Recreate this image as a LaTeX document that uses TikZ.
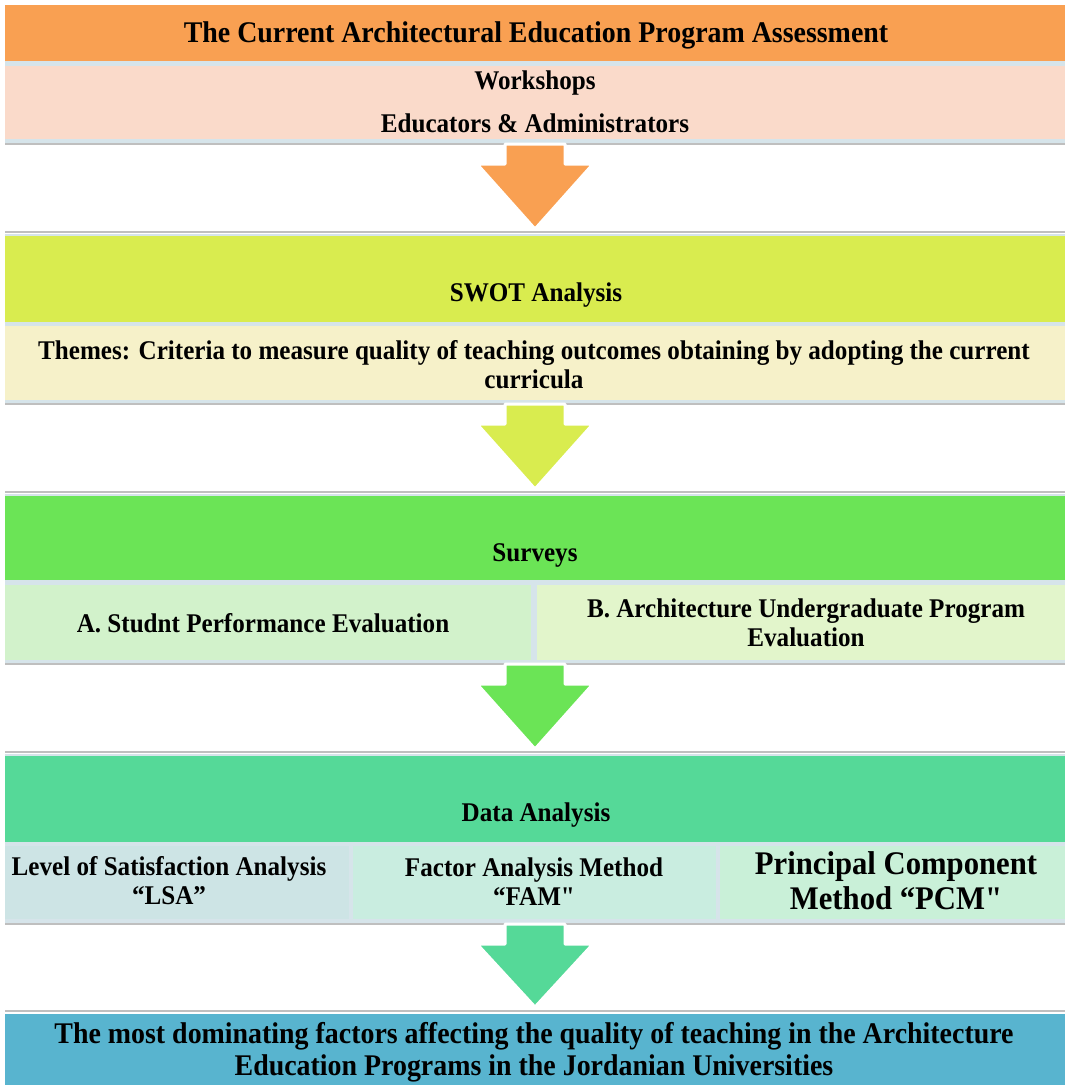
\documentclass[tikz,border=0pt]{standalone}
\usepackage{fontspec}
\setmainfont[FakeStretch=0.93]{Liberation Serif}
\newfontfamily\qfont[FakeStretch=0.93]{Liberation Serif}
\usetikzlibrary{calc}
\definecolor{cOrange}{HTML}{F9A052}
\definecolor{cPeach}{HTML}{FADACA}
\definecolor{cGap}{HTML}{D6E4EA}
\definecolor{cLime}{HTML}{D9EC4F}
\definecolor{cCream}{HTML}{F6F1C9}
\definecolor{cGreen}{HTML}{6BE456}
\definecolor{cGreenA}{HTML}{D2F2CB}
\definecolor{cGreenB}{HTML}{E2F5CB}
\definecolor{cTeal}{HTML}{55D998}
\definecolor{cLSA}{HTML}{CDE4E5}
\definecolor{cFAM}{HTML}{C9EDE0}
\definecolor{cPCM}{HTML}{C9F0D8}
\definecolor{cBlue}{HTML}{58B4CF}
\definecolor{cLine}{HTML}{BFBFBF}
\newcommand\sq{{\qfont\bfseries"}}
\tikzset{
  box/.style={rectangle, inner sep=0pt, outer sep=0pt, draw=none},
  txt/.style={inner sep=0pt, align=center, font=\fontsize{27}{29}\selectfont\bfseries},
  bigtxt/.style={txt, font=\fontsize{30}{32}\selectfont\bfseries},
  sepline/.style={draw=cLine, line width=1.3pt},
  barrowst/.style={draw=white, line width=3pt, line join=round},
}
\newcommand\barrow[3]{%
  \filldraw[barrowst, fill=#3]
    ($(#1)+(-30,0)$) -- ($(#1)+(30,0)$) -- ($(#1)+(30,20)$) -- ($(#1)+(58,20)$)
    -- ($(#2.north)+(0,-7)$)
    -- ($(#1)+(-58,20)$) -- ($(#1)+(-30,20)$) -- cycle;}
\begin{document}
\begin{tikzpicture}[x=1pt,y=-1pt]
\path[use as bounding box, fill=white] (0,0) rectangle (1065,1085);
% section 1
\fill[cGap] (5,5) rectangle (1065,144);
\node[box, fill=cOrange, minimum width=1060pt, minimum height=56pt] (top) at (535,33) {};
\node[bigtxt] (topt) at (536,35) {The Current Architectural Education Program Assessment};
\node[box, fill=cPeach, minimum width=1060pt, minimum height=73pt] (wk) at (535,102.5) {};
\node[txt] (wkt1) at (535,83.5) {Workshops};
\node[txt] (wkt2) at (535,123) {Educators \& Administrators};
\coordinate (s1l) at (5,144); \coordinate (s1r) at (1065,144); \coordinate (s1) at (535,144);
\draw[sepline] (s1l) -- (s1r);
\coordinate (t2l) at (5,232); \coordinate (t2r) at (1065,232);
\draw[sepline] (t2l) -- (t2r);
% section 2
\fill[cGap] (5,234) rectangle (1065,404);
\node[box, fill=cLime, minimum width=1060pt, minimum height=86pt] (swot) at (535,279) {};
\node[txt] (swott) at (536,295) {SWOT Analysis};
\node[box, fill=cCream, minimum width=1060pt, minimum height=74pt] (themes) at (535,363) {};
\node[txt] (themest) at (534,364.5) {Themes: Criteria to measure quality of teaching outcomes obtaining by adopting the current\\curricula};
\coordinate (s2l) at (5,404); \coordinate (s2r) at (1065,404); \coordinate (s2) at (535,404);
\draw[sepline] (s2l) -- (s2r);
\coordinate (t3l) at (5,492); \coordinate (t3r) at (1065,492);
\draw[sepline] (t3l) -- (t3r);
% section 3
\fill[cGap] (5,494) rectangle (1065,664);
\node[box, fill=cGreen, minimum width=1060pt, minimum height=84pt] (surv) at (535,538) {};
\node[txt] (survt) at (535,555) {Surveys};
\node[box, fill=cGreenA, minimum width=526pt, minimum height=75pt] (sa) at (268,622.5) {};
\node[txt] (sat) at (263,623) {A. Studnt Performance Evaluation};
\node[box, fill=cGreenB, minimum width=528pt, minimum height=75pt] (sb) at (801,622.5) {};
\node[txt] (sbt) at (806,623) {B. Architecture Undergraduate Program\\Evaluation};
\coordinate (s3l) at (5,664); \coordinate (s3r) at (1065,664); \coordinate (s3) at (535,664);
\draw[sepline] (s3l) -- (s3r);
\coordinate (t4l) at (5,752); \coordinate (t4r) at (1065,752);
\draw[sepline] (t4l) -- (t4r);
% section 4
\fill[cGap] (5,754) rectangle (1065,924);
\node[box, fill=cTeal, minimum width=1060pt, minimum height=86pt] (data) at (535,799) {};
\node[txt] (datat) at (536,815) {Data Analysis};
\node[box, fill=cLSA, minimum width=344pt, minimum height=73pt] (lsa) at (177,882.5) {};
\node[txt] (lsat) at (169,881) {Level of Satisfaction Analysis\\“LSA”};
\node[box, fill=cFAM, minimum width=363pt, minimum height=73pt] (fam) at (534.5,882.5) {};
\node[txt] (famt) at (534,882) {Factor Analysis Method\\“FAM\sq};
\node[box, fill=cPCM, minimum width=345pt, minimum height=73pt] (pcm) at (892.5,882.5) {};
\node[txt, font=\fontsize{33}{35}\selectfont\bfseries] (pcmt) at (896,881) {Principal Component\\Method “PCM\sq};
\coordinate (s4l) at (5,924); \coordinate (s4r) at (1065,924); \coordinate (s4) at (535,924);
\draw[sepline] (s4l) -- (s4r);
\coordinate (t5l) at (5,1011); \coordinate (t5r) at (1065,1011);
\draw[sepline] (t5l) -- (t5r);
% section 5
\node[box, fill=cBlue, minimum width=1060pt, minimum height=72pt] (res) at (535,1050) {};
\node[txt, font=\fontsize{30}{32}\selectfont\bfseries] (rest) at (534,1052) {The most dominating factors affecting the quality of teaching in the Architecture\\Education Programs in the Jordanian Universities};
% arrows
\barrow{s1}{swot}{cOrange}
\barrow{s2}{surv}{cLime}
\barrow{s3}{data}{cGreen}
\barrow{s4}{res}{cTeal}
\end{tikzpicture}
\end{document}
